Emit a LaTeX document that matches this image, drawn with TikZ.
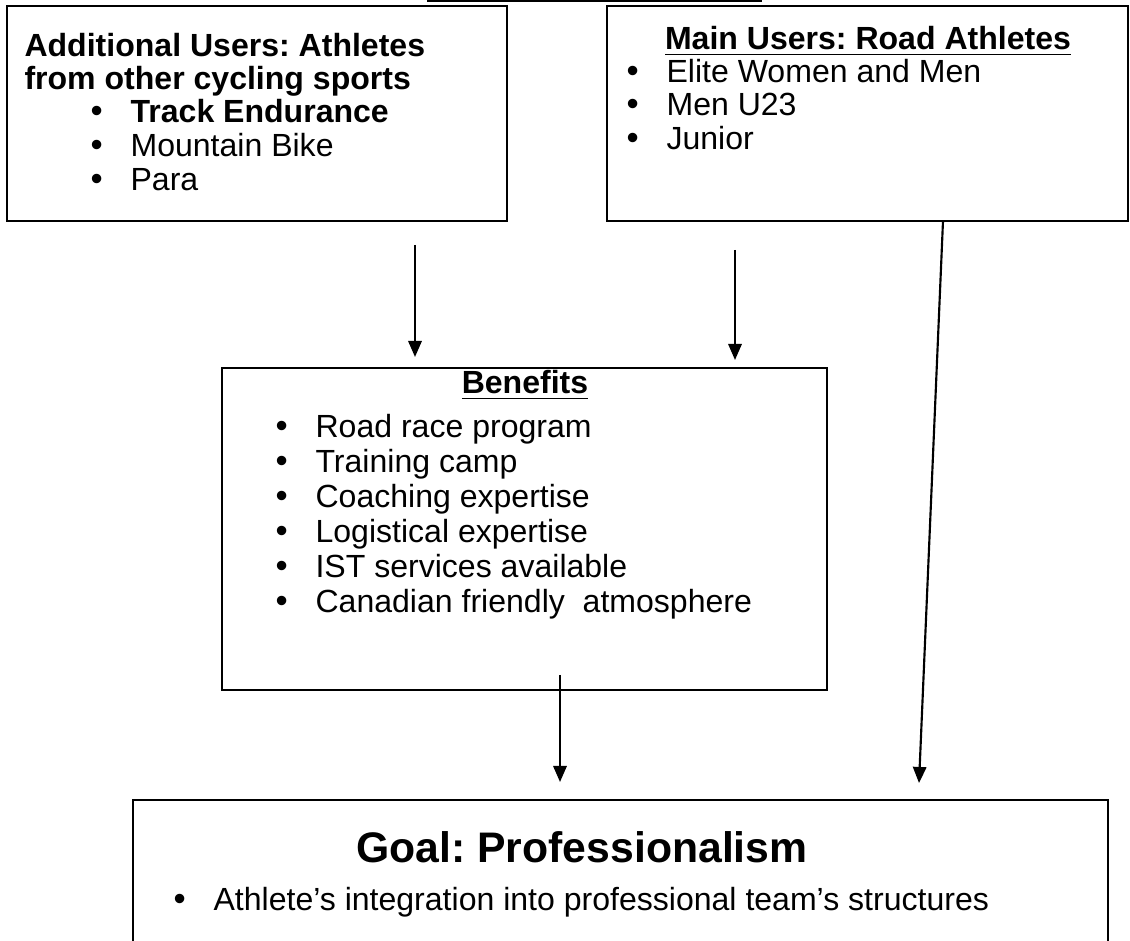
\documentclass[tikz,border=0pt]{standalone}
\usepackage{fontspec}
\setmainfont{Liberation Sans}
\usetikzlibrary{arrows.meta,positioning}
\frenchspacing

\newcommand{\bul}{\makebox[15pt][l]{\fontsize{13}{13}\selectfont\textbullet}}

\begin{document}
\begin{tikzpicture}[x=0.3745pt,y=-0.3745pt,
  box/.style={draw,line width=1pt},
  txt/.style={inner sep=0pt,anchor=base west,text height=8.5pt,text depth=2pt,
    font=\fontsize{12}{14}\selectfont},
  head/.style={txt,font=\fontsize{12}{14}\selectfont\bfseries},
  arr/.style={line width=0.8pt,-{Triangle[length=6pt,width=5pt]}}]

\clip (0,0) rectangle (1130,941);

% rule of the title that is cut off above
\draw [line width=0.6pt] (427,1) -- (762,1);

% boxes
\draw [box] (7,6) rectangle (507,221);
\draw [box] (607,6) rectangle (1128,221);
\draw [box] (222,368) rectangle (827,690);
\draw [box] (133,800) rectangle (1108,960);

% additional users
\node [head] (addl1) at (24,57) {Additional Users: Athletes};
\node [head] (addl2) at (24,90) {from other cycling sports};
\node [txt] (sport1) at (90,123) {\bul\textbf{Track Endurance}};
\node [txt] (sport2) at (90,157) {\bul Mountain Bike};
\node [txt] (sport3) at (90,191) {\bul Para};

% main users
\node [head,anchor=base] (mainhead) at (868,50) {\underline{Main Users: Road Athletes}};
\foreach \t [count=\i] in {Elite Women and Men, Men U23, Junior}
  \node [txt] (road\i) at (626,49+33.5*\i) {\bul\t};

% benefits
\node [head,anchor=base] (benhead) at (525,394) {\underline{Benefits}};
\foreach \t [count=\i] in {Road race program, Training camp, Coaching expertise,
  Logistical expertise, IST services available, {Canadian friendly\ \ atmosphere}}
  \node [txt] (ben\i) at (275,403+35*\i) {\bul\t};

% goal
\node [txt,anchor=base,text height=12pt,text depth=3pt,
  font=\fontsize{16}{19}\selectfont\bfseries] (goalhead) at (582,863) {Goal: Professionalism};
\node [txt] (goal1) at (173,911) {\bul Athlete’s integration into professional team’s structures};

% arrows
\coordinate (a1s) at (415,245);
\coordinate (a1e) at (415,357);
\coordinate (a2s) at (735,250);
\coordinate (a2e) at (735,360);
\coordinate (a3s) at (560,675);
\coordinate (a3e) at (560,782);
\coordinate (a4s) at (943,221);
\coordinate (a4e) at (919,783);

\draw [arr] (a1s) -- (a1e);
\draw [arr] (a2s) -- (a2e);
\draw [arr] (a3s) -- (a3e);
\draw [arr] (a4s) -- (a4e);

\end{tikzpicture}
\end{document}
